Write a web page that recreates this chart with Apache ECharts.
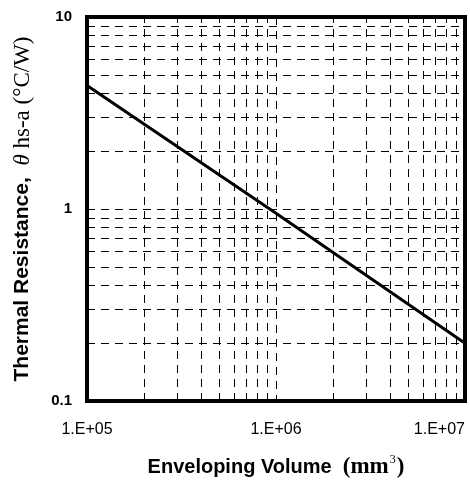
<!DOCTYPE html>
<html>
<head>
<meta charset="utf-8">
<script src="https://cdn.jsdelivr.net/npm/echarts@6/dist/echarts.min.js"></script>
<style>
  html, body { margin: 0; padding: 0; background: #fff; }
  #main { width: 470px; height: 485px; }
</style>
</head>
<body>
<div id="main"></div>
<script>
// envelope volume (mm3) vs heat sink thermal resistance (C/W)
var volumes = [1e5, 1e6, 1e7];
var resistance = [4.4, 0.95, 0.2];

// minor grid values (dashed lines between decades)
var xMinor = [2e5, 3e5, 4e5, 5e5, 6e5, 7e5, 8e5, 9e5, 2e6, 3e6, 4e6, 5e6, 6e6, 7e6, 8e6, 9e6];
var yMinor = [0.2, 0.3, 0.4, 0.5, 0.6, 0.7, 0.8, 0.9, 2, 3, 4, 5, 6, 7, 8, 9];

var xLabels = {100000: '1.E+05', 1000000: '1.E+06', 10000000: '1.E+07'};

var myChart = echarts.init(document.getElementById('main'));

var gridLines = [];
xMinor.forEach(function (v) { gridLines.push({xAxis: v}); });
yMinor.forEach(function (v) { gridLines.push({yAxis: v}); });

var dash = {color: '#000', width: 1, type: [8, 6]};

myChart.setOption({
  animation: false,
  backgroundColor: '#fff',
  grid: {
    left: 87, right: 5, top: 17, bottom: 84,
    show: true, borderColor: '#000', borderWidth: 4, z: 10
  },
  xAxis: {
    type: 'log',
    logBase: 10,
    min: 1e5,
    max: 1e7,
    axisLine: {show: false},
    axisTick: {show: false},
    splitLine: {show: true, lineStyle: dash},
    axisLabel: {
      color: '#000', fontFamily: 'Liberation Sans', fontSize: 16, margin: 21,
      alignMaxLabel: 'right', alignMinLabel: 'center',
      formatter: function (v) { return xLabels[Math.round(v)] || ''; }
    },
    name: '{a|Enveloping Volume  }{b|(mm}{c|3}{b|)}',
    nameLocation: 'middle',
    nameGap: 53,
    nameTextStyle: {
      rich: {
        a: {fontFamily: 'Liberation Sans', fontWeight: 'bold', fontSize: 20, color: '#000'},
        b: {fontFamily: 'Liberation Serif', fontWeight: 'bold', fontSize: 23, color: '#000'},
        c: {fontFamily: 'Liberation Serif', fontSize: 12, color: '#000', verticalAlign: 'top', padding: [0, 1, 14, 1]}
      }
    }
  },
  yAxis: {
    type: 'log',
    logBase: 10,
    min: 0.1,
    max: 10,
    axisLine: {show: false},
    axisTick: {show: false},
    splitLine: {show: true, lineStyle: dash},
    axisLabel: {
      color: '#000', fontFamily: 'Liberation Sans', fontWeight: 'bold', fontSize: 15, margin: 15,
      formatter: function (v) { return v >= 10 ? '10' : (v >= 1 ? '1' : '0.1'); }
    },
    name: '{a|Thermal Resistance,  }{t|\u03b8}{b| hs-a (\u00b0C/W)}',
    nameLocation: 'middle',
    nameGap: 53,
    nameTextStyle: {
      rich: {
        a: {fontFamily: 'Liberation Sans', fontWeight: 'bold', fontSize: 21, color: '#000'},
        t: {fontFamily: 'Liberation Serif', fontStyle: 'italic', fontSize: 23, color: '#000'},
        b: {fontFamily: 'Liberation Serif', fontSize: 23, color: '#000'}
      }
    }
  },
  series: [
    {
      type: 'line',
      data: volumes.map(function (v, i) { return [v, resistance[i]]; }),
      symbol: 'none',
      lineStyle: {color: '#000', width: 3},
      z: 5,
      markLine: {
        silent: true,
        symbol: 'none',
        label: {show: false},
        lineStyle: dash,
        data: gridLines
      }
    }
  ]
});
</script>
</body>
</html>
